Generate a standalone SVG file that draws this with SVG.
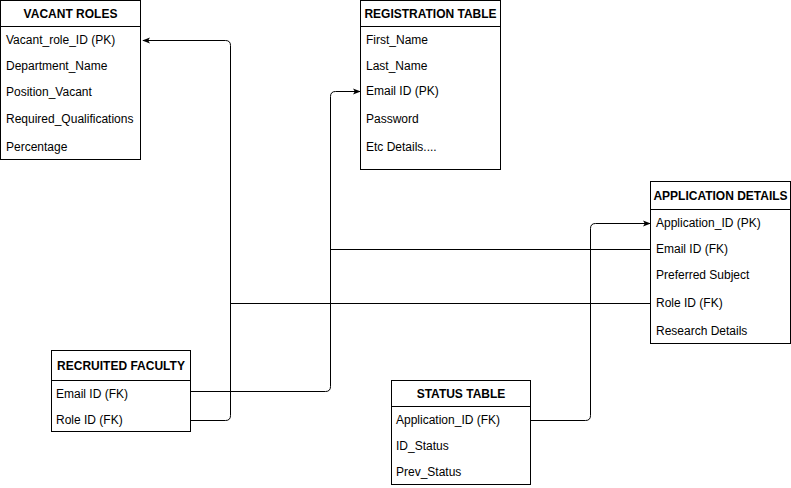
<svg xmlns="http://www.w3.org/2000/svg" width="791" height="488" viewBox="0 0 791 488">
<style>
.box{fill:#fff;stroke:#000;stroke-width:1}
.hd{font-family:"Liberation Sans",Arial,sans-serif;font-size:12px;font-weight:bold;fill:#000;text-anchor:middle}
.rw{font-family:"Liberation Sans",Arial,sans-serif;font-size:12px;fill:#000}
.ln{fill:none;stroke:#000;stroke-width:1}
</style>
<defs>
<marker id="arr" viewBox="0 0 10 10" refX="9" refY="5" markerWidth="8" markerHeight="8" markerUnits="userSpaceOnUse" orient="auto">
<path d="M0,1 L10,5 L0,9 L2.5,5 Z" fill="#000"/>
</marker>
</defs>
<rect width="791" height="488" fill="#fff"/>
<g id="connectors">
<path class="ln" d="M190.5,420.5 H225.5 Q230.5,420.5 230.5,415.5 V45.5 Q230.5,40.5 225.5,40.5 H143" marker-end="url(#arr)"/>
<path class="ln" d="M190.5,391.5 H325.5 Q330.5,391.5 330.5,386.5 V96.5 Q330.5,91.5 335.5,91.5 H360" marker-end="url(#arr)"/>
<path class="ln" d="M530.5,420.5 H585.5 Q590.5,420.5 590.5,415.5 V228.5 Q590.5,223.5 595.5,223.5 H650" marker-end="url(#arr)"/>
<path class="ln" d="M650.5,249.5 H330.5"/>
<path class="ln" d="M650.5,303.5 H230.5"/>
</g>
<g id="vacant-roles">
<rect class="box" x="0.5" y="0.5" width="140" height="159"/>
<line class="ln" x1="0.5" y1="26.5" x2="140.5" y2="26.5"/>
<text class="hd" x="70.5" y="18">VACANT ROLES</text>
<text class="rw" x="6" y="44">Vacant_role_ID (PK)</text>
<text class="rw" x="6" y="70">Department_Name</text>
<text class="rw" x="6" y="96">Position_Vacant</text>
<text class="rw" x="6" y="123">Required_Qualifications</text>
<text class="rw" x="6" y="151">Percentage</text>
</g>
<g id="registration-table">
<rect class="box" x="360.5" y="0.5" width="140" height="169"/>
<line class="ln" x1="360.5" y1="26.5" x2="500.5" y2="26.5"/>
<text class="hd" x="430.5" y="18">REGISTRATION TABLE</text>
<text class="rw" x="366" y="44">First_Name</text>
<text class="rw" x="366" y="70">Last_Name</text>
<text class="rw" x="366" y="95">Email ID (PK)</text>
<text class="rw" x="366" y="123">Password</text>
<text class="rw" x="366" y="151">Etc Details....</text>
</g>
<g id="application-details">
<rect class="box" x="650.5" y="181.5" width="140" height="162"/>
<line class="ln" x1="650.5" y1="209.5" x2="790.5" y2="209.5"/>
<text class="hd" x="720.5" y="200">APPLICATION DETAILS</text>
<text class="rw" x="656" y="227">Application_ID (PK)</text>
<text class="rw" x="656" y="253">Email ID (FK)</text>
<text class="rw" x="656" y="279">Preferred Subject</text>
<text class="rw" x="656" y="307">Role ID (FK)</text>
<text class="rw" x="656" y="335">Research Details</text>
</g>
<g id="recruited-faculty">
<rect class="box" x="51.5" y="350.5" width="139" height="81"/>
<line class="ln" x1="51.5" y1="380.5" x2="190.5" y2="380.5"/>
<text class="hd" x="121" y="370">RECRUITED FACULTY</text>
<text class="rw" x="56" y="398">Email ID (FK)</text>
<text class="rw" x="56" y="424">Role ID (FK)</text>
</g>
<g id="status-table">
<rect class="box" x="391.5" y="380.5" width="139" height="104"/>
<line class="ln" x1="391.5" y1="406.5" x2="530.5" y2="406.5"/>
<text class="hd" x="461" y="398">STATUS TABLE</text>
<text class="rw" x="396" y="424">Application_ID (FK)</text>
<text class="rw" x="396" y="450">ID_Status</text>
<text class="rw" x="396" y="476">Prev_Status</text>
</g>
</svg>
